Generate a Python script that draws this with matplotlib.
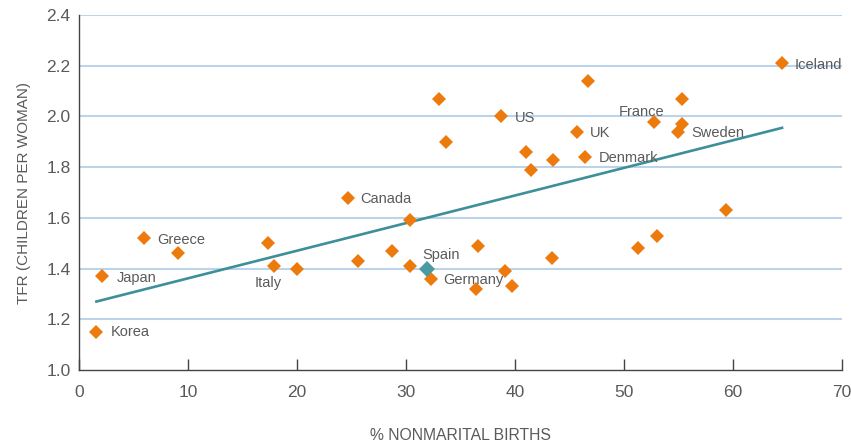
import numpy as np
import matplotlib
matplotlib.use("Agg")
import matplotlib.pyplot as plt

# datos
nonmarital = [1.6, 2.1, 6.0, 9.1, 17.3, 17.9, 20.0, 24.7, 25.6, 28.7, 30.4, 30.4,
              32.3, 33.0, 33.7, 36.6, 36.4, 38.7, 39.1, 39.7, 41.0, 41.5, 43.4,
              43.5, 45.7, 46.4, 46.7, 51.3, 52.8, 53.0, 55.3, 55.3, 55.0, 59.4, 64.5]
tfr = [1.15, 1.37, 1.52, 1.46, 1.50, 1.41, 1.40, 1.68, 1.43, 1.47, 1.59, 1.41,
       1.36, 2.07, 1.90, 1.49, 1.32, 2.00, 1.39, 1.33, 1.86, 1.79, 1.44,
       1.83, 1.94, 1.84, 2.14, 1.48, 1.98, 1.53, 2.07, 1.97, 1.94, 1.63, 2.21]
paises = ['Korea', 'Japan', 'Greece', '', '', 'Italy', '', 'Canada', '', '', '', '',
          'Germany', '', '', '', '', 'US', '', '', '', '', '',
          '', 'UK', 'Denmark', '', '', 'France', '', '', '', 'Sweden', '', 'Iceland']

# España va aparte (resaltada)
spain_x, spain_y = 31.9, 1.40

# recta de tendencia (extremos)
trend_x = [1.6, 64.5]
trend_y = [1.27, 1.955]

naranja = '#ec7a0c'
verde = '#3d8f99'
gris = '#5a5a5a'

# desplazamiento de cada etiqueta en puntos: (dx, dy, ha)
offsets = {
    'Korea': (10, 0, 'left'), 'Japan': (11, -1, 'left'), 'Greece': (9, -1, 'left'),
    'Italy': (-4, -12, 'center'), 'Canada': (9, -1, 'left'), 'Germany': (9, -1, 'left'),
    'US': (10, -1, 'left'), 'UK': (9, -1, 'left'), 'Denmark': (10, -1, 'left'),
    'France': (7, 7, 'right'), 'Sweden': (9, -1, 'left'), 'Iceland': (9, -1, 'left'),
}

plt.rcParams['font.family'] = ['Liberation Sans', 'DejaVu Sans']

fig = plt.figure(figsize=(8.51, 4.43), dpi=100)
ax = fig.add_axes([0.0928, 0.1648, 0.8966, 0.8013])

ax.set_xlim(0, 70)
ax.set_ylim(1.0, 2.4)
ax.set_yticks(np.arange(1.0, 2.41, 0.2))
ax.set_yticklabels([f'{v:.1f}' for v in np.arange(1.0, 2.41, 0.2)])
ax.set_xticks(range(0, 71, 10))

for v in np.arange(1.2, 2.41, 0.2):
    ax.axhline(v, color='#bcd3ea', lw=1.5, zorder=0)

ax.plot(trend_x, trend_y, color=verde, lw=1.9, zorder=2)
ax.plot(nonmarital, tfr, 'D', color=naranja, markersize=7.2, mew=0, zorder=3)
ax.plot(spain_x, spain_y, 'D', color='#4a9aa4', markersize=8.2, mew=0, zorder=4)

for x, y, nombre in zip(nonmarital, tfr, paises):
    if nombre:
        dx, dy, ha = offsets[nombre]
        ax.annotate(nombre, (x, y), xytext=(dx, dy), textcoords='offset points',
                    ha=ha, va='center', fontsize=10.5, color=gris)
ax.annotate('Spain', (spain_x, spain_y), xytext=(-3, 10), textcoords='offset points',
            ha='left', va='center', fontsize=10.5, color=gris)

for s in ['top', 'right']:
    ax.spines[s].set_visible(False)
for s in ['left', 'bottom']:
    ax.spines[s].set_color('#444444')
    ax.spines[s].set_linewidth(1.0)

ax.tick_params(axis='x', direction='in', length=8, width=1, color='#444444',
               pad=11, labelsize=12.5, labelcolor=gris)
ax.tick_params(axis='y', length=0, pad=6, labelsize=12.5, labelcolor=gris)

ax.set_xlabel('% NONMARITAL BIRTHS', fontsize=11.3, color=gris, labelpad=20)
ax.set_ylabel('TFR (CHILDREN PER WOMAN)', fontsize=11, color=gris, labelpad=11)

plt.savefig('out.png', dpi=100)
